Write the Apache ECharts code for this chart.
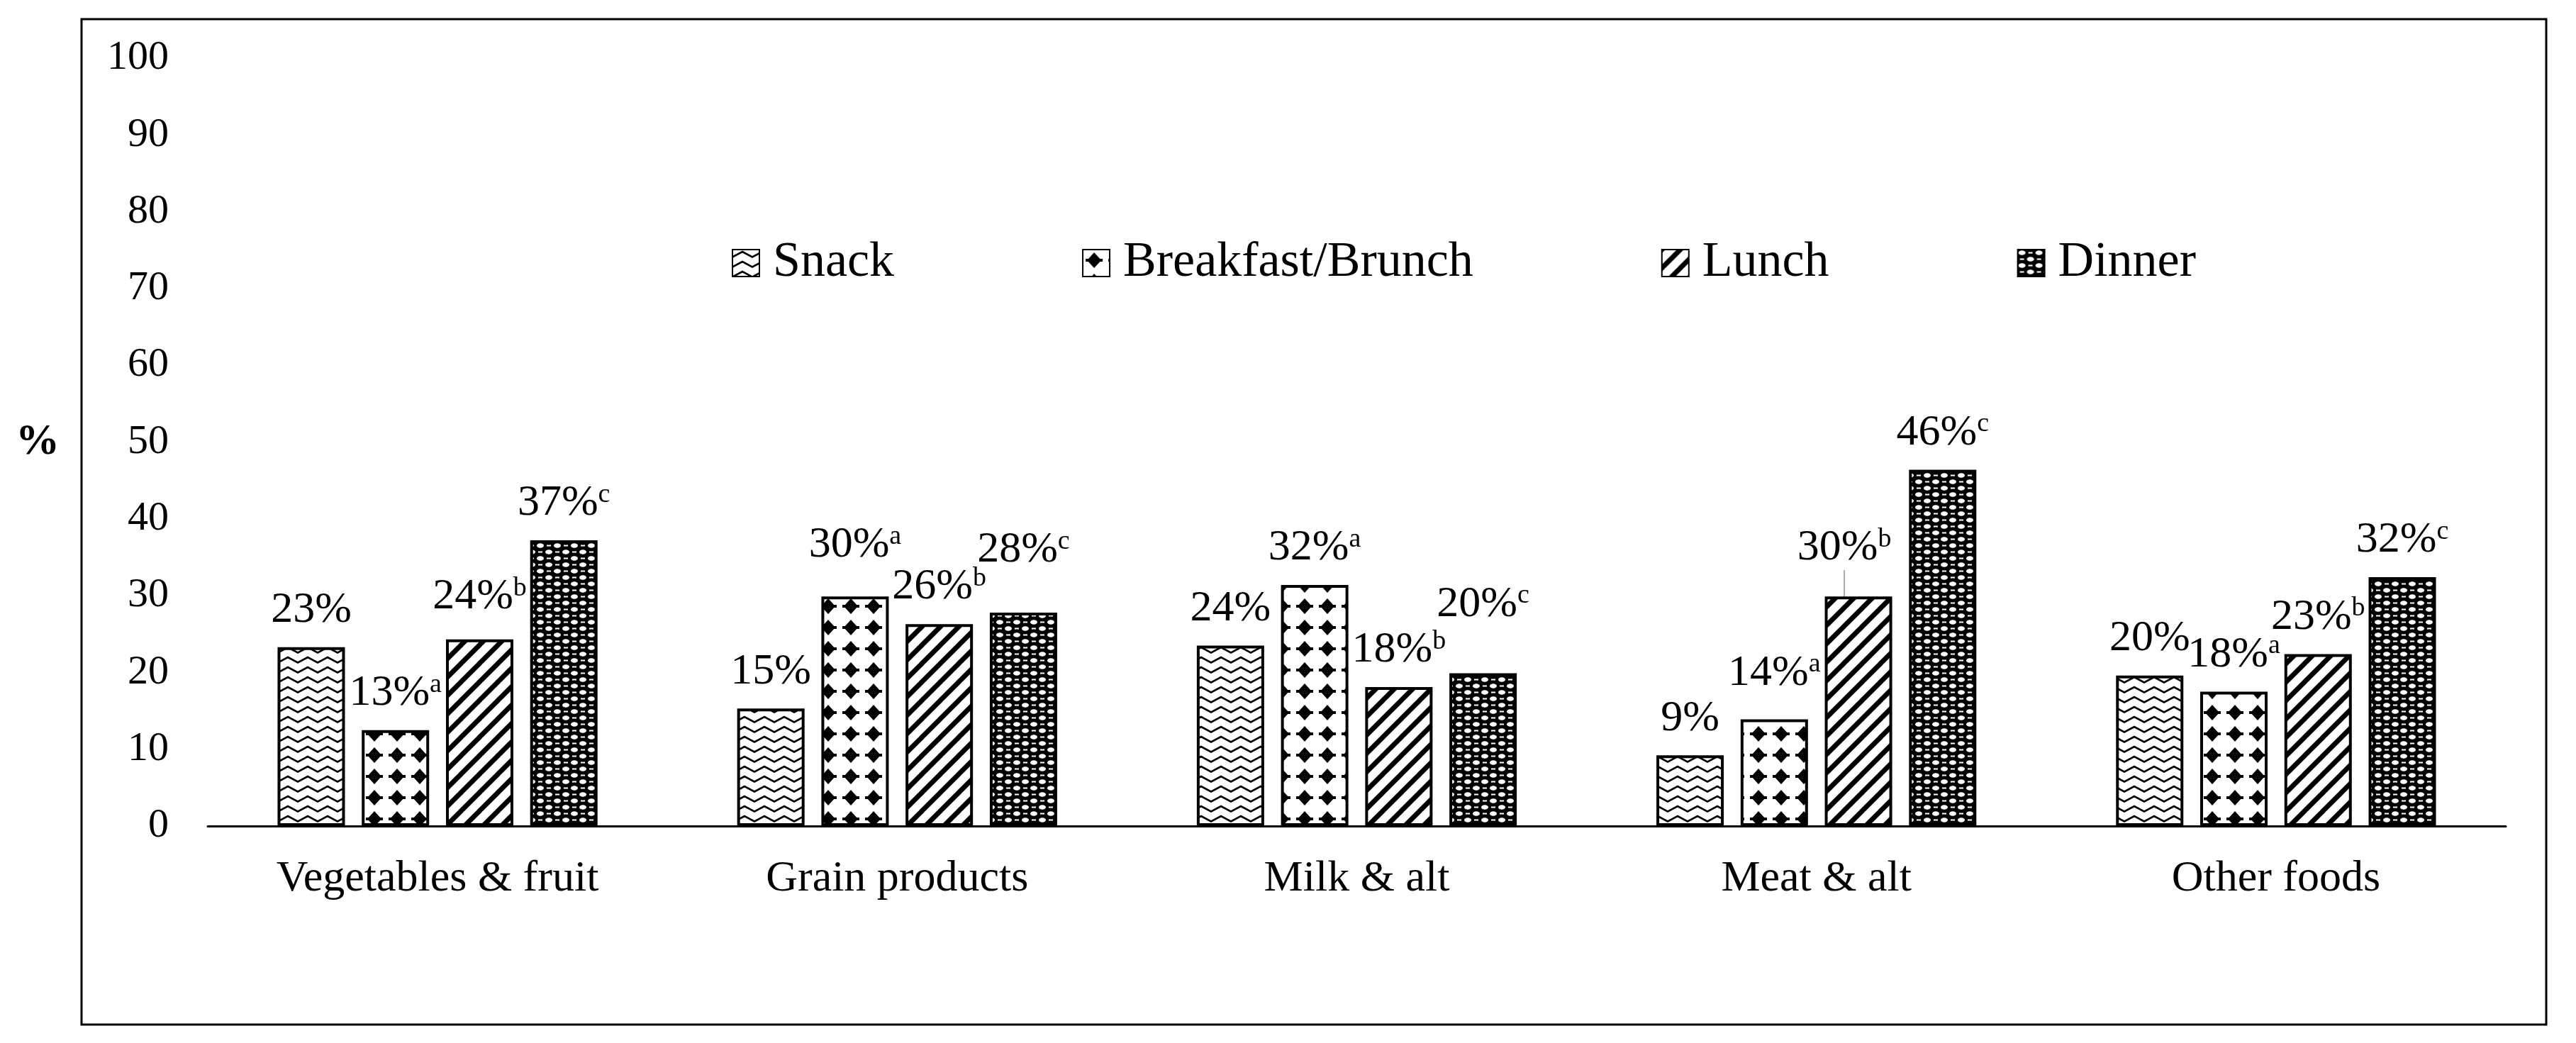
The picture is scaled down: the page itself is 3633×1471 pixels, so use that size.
<!DOCTYPE html>
<html>
<head>
<meta charset="utf-8">
<script src="https://cdn.jsdelivr.net/npm/echarts@6/dist/echarts.min.js"></script>
<style>
html,body{margin:0;padding:0;background:#fff;}
#chart{width:3633px;height:1471px;}
</style>
</head>
<body>
<div id="chart"></div>
<script>
// ---- data ----
const categories = ['Vegetables & fruit', 'Grain products', 'Milk & alt', 'Meat & alt', 'Other foods'];
const seriesNames = ['Snack', 'Breakfast/Brunch', 'Lunch', 'Dinner'];
const snackValues = [23.3, 15.3, 23.5, 9.2, 19.6];
const breakfastValues = [12.5, 29.9, 31.4, 13.9, 17.5];
const lunchValues = [24.3, 26.3, 18.1, 29.9, 22.4];
const dinnerValues = [37.2, 27.8, 19.9, 46.4, 32.4];
const snackLabels = ['23%', '15%', '24%', '9%', '20%'];
const breakfastLabels = ['13%', '30%', '32%', '14%', '18%'];
const lunchLabels = ['24%', '26%', '18%', '30%', '23%'];
const dinnerLabels = ['37%', '28%', '20%', '46%', '32%'];
const superscripts = ['', 'a', 'b', 'c'];
const yTicks = [0, 10, 20, 30, 40, 50, 60, 70, 80, 90, 100];

// ---- fill patterns ----
function makeCanvas(w, h) {
  const c = document.createElement('canvas');
  c.width = w; c.height = h;
  return c;
}
function zigzagPattern() {
  const w = 28, h = 14;
  const c = makeCanvas(w, h), g = c.getContext('2d');
  g.fillStyle = '#fff'; g.fillRect(0, 0, w, h);
  g.strokeStyle = '#000'; g.lineWidth = 2.6;
  g.beginPath();
  g.moveTo(-1, 11); g.lineTo(14, 3); g.lineTo(29, 11);
  g.stroke();
  return c;
}
function diamondPattern() {
  const w = 32, h = 30;
  const c = makeCanvas(w, h), g = c.getContext('2d');
  g.fillStyle = '#fff'; g.fillRect(0, 0, w, h);
  g.fillStyle = '#000';
  g.beginPath();
  g.moveTo(16, 4); g.lineTo(26, 15); g.lineTo(16, 26); g.lineTo(6, 15); g.closePath();
  g.fill();
  g.fillRect(4, 13, 24, 4);
  return c;
}
function stripePattern() {
  const s = 26;
  const c = makeCanvas(s, s), g = c.getContext('2d');
  g.fillStyle = '#fff'; g.fillRect(0, 0, s, s);
  g.strokeStyle = '#000'; g.lineWidth = 7;
  g.beginPath();
  for (let k = -1; k <= 1; k++) {
    g.moveTo(k * s - 2, s + 2); g.lineTo(k * s + s + 2, -2);
  }
  g.stroke();
  return c;
}
function weavePattern() {
  const w = 24, h = 18;
  const c = makeCanvas(w, h), g = c.getContext('2d');
  g.fillStyle = '#000'; g.fillRect(0, 0, w, h);
  g.fillStyle = '#fff';
  g.beginPath(); g.ellipse(6, 4.5, 5, 3.2, 0, 0, Math.PI * 2); g.fill();
  g.beginPath(); g.ellipse(18, 13.5, 5, 3.2, 0, 0, Math.PI * 2); g.fill();
  g.fillRect(15, 3.5, 6, 2);
  g.fillRect(3, 12.5, 6, 2);
  return c;
}
const patterns = [zigzagPattern(), diamondPattern(), stripePattern(), weavePattern()];

const FONT = "'Liberation Serif', 'Times New Roman', serif";
const allValues = [snackValues, breakfastValues, lunchValues, dinnerValues];
const allLabels = [snackLabels, breakfastLabels, lunchLabels, dinnerLabels];

// label nudges keyed "series-category" -> [dx, dy]
const labelNudge = {
  '2-0': [0, -8], '1-1': [0, -20], '3-1': [0, -36], '3-2': [0, -45],
  '2-3': [-20, -16], '1-3': [0, -13]
};
// guide line only for the moved Meat & alt / Lunch label
const guideLines = {'2-3': true};

const chart = echarts.init(document.getElementById('chart'), null, {renderer: 'canvas'});

const series = seriesNames.map((name, si) => ({
  name: name,
  type: 'bar',
  barWidth: 95,
  barGap: '25%',
  data: allValues[si].map((v, ci) => guideLines[si + '-' + ci]
    ? {value: v, labelLine: {show: true, lineStyle: {color: '#a8a8a8', width: 2}}}
    : {value: v, labelLine: {show: false}}),
  itemStyle: {
    color: {image: patterns[si], repeat: 'repeat'},
    borderColor: '#000',
    borderWidth: 4
  },
  label: {
    show: true,
    position: 'top',
    distance: 21,
    formatter: (p) => '{v|' + allLabels[si][p.dataIndex] + '}' + (superscripts[si] ? '{s|' + superscripts[si] + '}' : ''),
    rich: {
      v: {fontFamily: FONT, fontSize: 62, color: '#000', lineHeight: 62},
      s: {fontFamily: FONT, fontSize: 38, color: '#000', verticalAlign: 'top', lineHeight: 40}
    }
  },
  labelLayout: (p) => {
    const n = labelNudge[si + '-' + p.dataIndex];
    return n ? {dx: n[0], dy: n[1]} : {};
  },
  labelLine: {show: false}
}));

chart.setOption({
  animation: false,
  backgroundColor: '#fff',
  textStyle: {fontFamily: FONT},
  grid: {left: 293, right: 99, top: 82, bottom: 306, containLabel: false},
  legend: {
    left: 1027, top: 331,
    itemWidth: 38, itemHeight: 38,
    itemGap: 265,
    icon: 'rect',
    data: seriesNames,
    textStyle: {fontFamily: FONT, fontSize: 70, color: '#000', padding: [0, 0, 0, 14]}
  },
  xAxis: {
    type: 'category',
    data: categories,
    axisLine: {lineStyle: {color: '#000', width: 3}},
    axisTick: {show: false},
    axisLabel: {fontFamily: FONT, fontSize: 62, color: '#000', margin: 44, interval: 0}
  },
  yAxis: {
    type: 'value',
    min: yTicks[0], max: yTicks[yTicks.length - 1], interval: 10,
    name: '%',
    nameLocation: 'middle',
    nameRotate: 0,
    nameGap: 209,
    nameTextStyle: {fontFamily: FONT, fontSize: 62, color: '#000', fontWeight: 'bold'},
    axisLine: {show: false},
    axisTick: {show: false},
    splitLine: {show: false},
    axisLabel: {fontFamily: FONT, fontSize: 58, color: '#000', margin: 55}
  },
  graphic: [{
    type: 'rect',
    shape: {x: 115, y: 27, width: 3476, height: 1418},
    style: {fill: 'none', stroke: '#000', lineWidth: 3},
    silent: true
  }],
  series: series
});
</script>
</body>
</html>
